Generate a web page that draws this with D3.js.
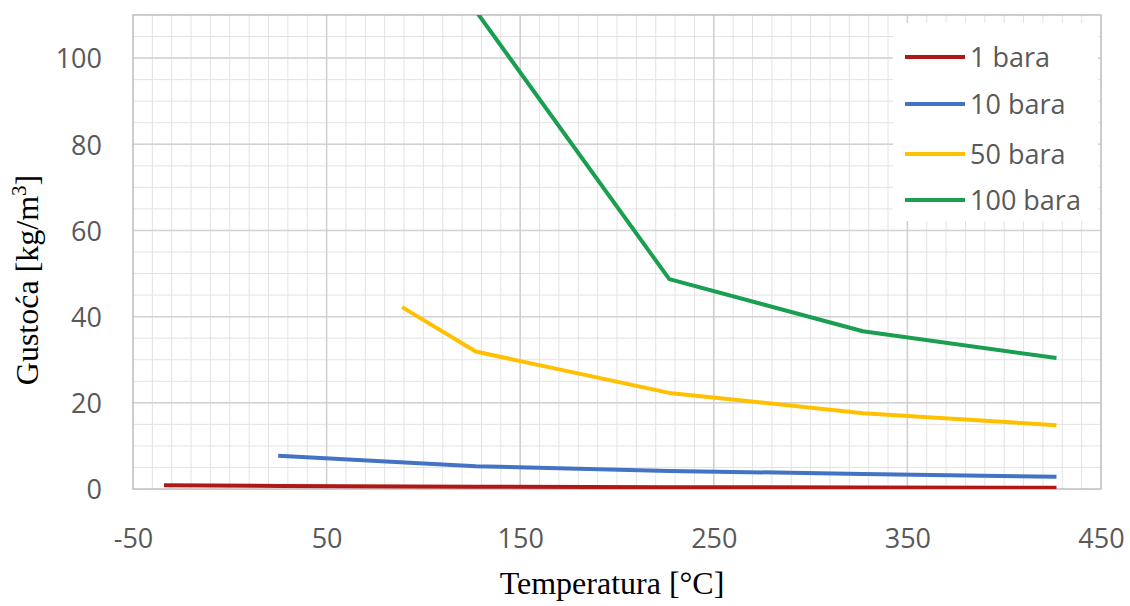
<!DOCTYPE html>
<html>
<head>
<meta charset="utf-8">
<script src="https://cdn.jsdelivr.net/npm/d3@7"></script>
<style>
  html, body { margin: 0; padding: 0; background: #fff; }
  svg { display: block; }
</style>
</head>
<body>
<svg id="chart" width="1130" height="606"></svg>
<script>
// ---- data ----
const seriesNames = ["1 bara", "10 bara", "50 bara", "100 bara"];
const temp1   = [-34, 27, 127, 227, 327, 427];
const rho1    = [0.85, 0.69, 0.53, 0.42, 0.35, 0.30];
const temp10  = [25, 127, 227, 327, 427];
const rho10   = [7.7, 5.3, 4.2, 3.5, 2.85];
const temp50  = [89, 127, 227, 327, 427];
const rho50   = [42.2, 31.9, 22.3, 17.6, 14.8];
const temp100 = [127, 227, 327, 427];
const rho100  = [111, 48.7, 36.6, 30.4];
const xTicks = [-50, 50, 150, 250, 350, 450];
const yTicks = [0, 20, 40, 60, 80, 100];
const colors = ["#b01818", "#4472c4", "#ffc000", "#1a9e50"];

const series = [
  {name: seriesNames[0], t: temp1, r: rho1},
  {name: seriesNames[1], t: temp10, r: rho10},
  {name: seriesNames[2], t: temp50, r: rho50},
  {name: seriesNames[3], t: temp100, r: rho100}
];

const svg = d3.select("#chart");
const L = 133, R = 1101, T = 15, B = 489;
const x = d3.scaleLinear().domain([-50, 450]).range([L, R]);
const y = d3.scaleLinear().domain([0, 110]).range([B, T]);

// minor grid
const g = svg.append("g");
g.selectAll(".vmin").data(d3.range(-40, 450, 10)).join("line")
  .attr("x1", d => x(d)).attr("x2", d => x(d)).attr("y1", T).attr("y2", B)
  .attr("stroke", "#e3e3e3").attr("stroke-width", 1);
g.selectAll(".hmin").data(d3.range(5, 110, 5)).join("line")
  .attr("x1", L).attr("x2", R).attr("y1", d => y(d)).attr("y2", d => y(d))
  .attr("stroke", "#e3e3e3").attr("stroke-width", 1);
// major grid
g.selectAll(".hmaj").data(yTicks.filter(d => d > 0)).join("line")
  .attr("x1", L).attr("x2", R).attr("y1", d => y(d)).attr("y2", d => y(d))
  .attr("stroke", "#d2d2d2").attr("stroke-width", 1.5);
g.selectAll(".vmaj").data(xTicks.slice(1, -1)).join("line")
  .attr("x1", d => x(d)).attr("x2", d => x(d)).attr("y1", T).attr("y2", B)
  .attr("stroke", "#cfcfcf").attr("stroke-width", 1.5);
// border
svg.append("rect").attr("x", L).attr("y", T).attr("width", R - L).attr("height", B - T)
  .attr("fill", "none").attr("stroke", "#bdbdbd").attr("stroke-width", 1.5);

// axes (labels only)
const xAxis = d3.axisBottom(x).tickValues(xTicks).tickFormat(d => String(d)).tickSize(0).tickPadding(0);
const xg = svg.append("g").attr("transform", `translate(0,${B})`).call(xAxis);
xg.select(".domain").remove();
xg.selectAll("text").attr("dy", null).attr("y", 59)
  .attr("font-family", "'Open Sans', sans-serif").attr("font-size", 27).attr("fill", "#595959");

const yAxis = d3.axisLeft(y).tickValues(yTicks).tickFormat(d => String(d)).tickSize(0).tickPadding(0);
const yg = svg.append("g").attr("transform", `translate(${L},0)`).call(yAxis);
yg.select(".domain").remove();
yg.selectAll("text").attr("x", -31).attr("dy", "0.36em")
  .attr("font-family", "'Open Sans', sans-serif").attr("font-size", 27).attr("fill", "#595959");

// clip
svg.append("clipPath").attr("id", "clip").append("rect")
  .attr("x", L).attr("y", T).attr("width", R - L).attr("height", B - T);

const line = d3.line().x(d => x(d[0])).y(d => y(d[1]));
svg.append("g").attr("clip-path", "url(#clip)").selectAll("path").data(series).join("path")
  .attr("d", s => line(s.t.map((t, i) => [t, s.r[i]])))
  .attr("fill", "none").attr("stroke", (s, i) => colors[i]).attr("stroke-width", 4)
  .attr("stroke-linejoin", "round");

// legend
const lg = svg.append("g");
lg.append("rect").attr("x", 893).attr("y", 23).attr("width", 205).attr("height", 198).attr("fill", "#fff");
const ly = [57, 104, 154, 200];
series.forEach((s, i) => {
  lg.append("line").attr("x1", 905).attr("x2", 965).attr("y1", ly[i]).attr("y2", ly[i])
    .attr("stroke", colors[i]).attr("stroke-width", 4);
  lg.append("text").attr("x", 970).attr("y", ly[i]).attr("dy", "0.36em")
    .attr("font-family", "'Open Sans', sans-serif").attr("font-size", 27).attr("fill", "#595959")
    .text(s.name);
});

// axis titles
svg.append("text").attr("x", 612).attr("y", 594).attr("text-anchor", "middle")
  .attr("font-family", "'Liberation Serif', 'Times New Roman', serif").attr("font-size", 32).attr("fill", "#000")
  .text("Temperatura [°C]");
const yt = svg.append("text").attr("transform", "translate(38,280) rotate(-90)").attr("text-anchor", "middle")
  .attr("font-family", "'Liberation Serif', 'Times New Roman', serif").attr("font-size", 32).attr("fill", "#000");
yt.append("tspan").text("Gustoća [kg/m");
yt.append("tspan").attr("dy", -12).attr("font-size", 21).text("3");
yt.append("tspan").attr("dy", 12).text("]");
</script>
</body>
</html>
